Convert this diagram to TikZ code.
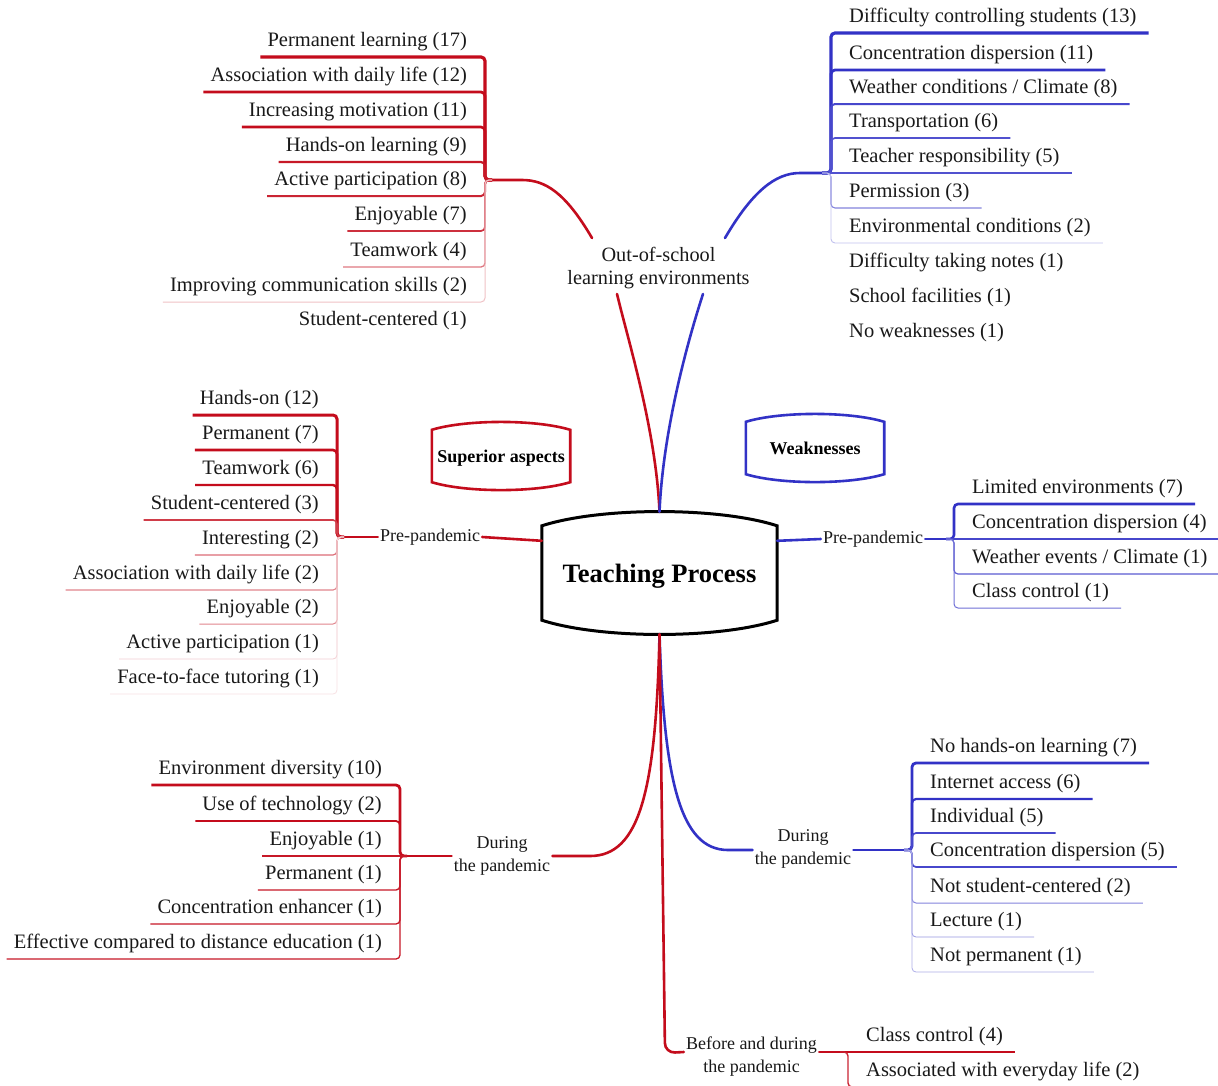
\documentclass[tikz,border=0pt]{standalone}
\usepackage{fontspec}
\setmainfont{Liberation Serif}
\newfontfamily\mmserif{Liberation Serif}
\usetikzlibrary{calc}
\definecolor{mmred}{RGB}{196,12,28}
\definecolor{mmblue}{RGB}{50,50,198}
\tikzset{
  mmitem/.style={font=\mmserif\fontsize{20.5}{24}\selectfont, text=black!90, inner xsep=7pt, inner ysep=6pt, text height=14pt, text depth=4.4pt},
  mmlabel/.style={font=\mmserif\fontsize{18}{23}\selectfont, text=black!90, align=center, inner sep=2pt},
  mmbranch/.style={line width=2.6pt, line cap=round},
  mmbox/.style={line width=2.6pt},
}
\newcommand{\mmL}[8]{%
  \node[mmitem,anchor=south east] (#1) at ({#3-11},#4) {#5};
  \draw[color=#8!#7,line width=#6pt,rounded corners=4pt] (#2) -| ([xshift=11pt]#1.south east) -- (#1.south west);}
\newcommand{\mmLS}[8]{%
  \node[mmitem,anchor=south east] (#1) at ({#3-11},#4) {#5};
  \draw[color=#8!#7,line width=#6pt] (#2) -- (#1.south west);}
\newcommand{\mmLN}[4]{%
  \node[mmitem,anchor=south east] (#1) at ({#2-11},#3) {#4};}
\newcommand{\mmR}[8]{%
  \node[mmitem,anchor=south west] (#1) at ({#3+11},#4) {#5};
  \draw[color=#8!#7,line width=#6pt,rounded corners=4pt] (#2) -| ([xshift=-11pt]#1.south west) -- ([xshift=5pt]#1.south east);}
\newcommand{\mmRS}[8]{%
  \node[mmitem,anchor=south west] (#1) at ({#3+11},#4) {#5};
  \draw[color=#8!#7,line width=#6pt] (#2) -- ([xshift=5pt]#1.south east);}
\newcommand{\mmRN}[4]{%
  \node[mmitem,anchor=south west] (#1) at ({#2+11},#3) {#4};}
\newcommand{\mmbarrel}[3]{%
  \draw[#2] (#1.north west) .. controls ($(#1.north west)!0.25!(#1.north east)+(0,-#3)$) and ($(#1.north west)!0.75!(#1.north east)+(0,-#3)$) .. (#1.north east) -- (#1.south east) .. controls ($(#1.south west)!0.75!(#1.south east)+(0,#3)$) and ($(#1.south west)!0.25!(#1.south east)+(0,#3)$) .. (#1.south west) -- cycle;}
\begin{document}
\begin{tikzpicture}[x=1pt,y=-1pt]
\useasboundingbox (0,0) rectangle (1218,1085);
\clip (0,0) rectangle (1218,1085);
\fill[white] (0,0) rectangle (1218,1085);

% central and category boxes
\node[minimum width=235pt, minimum height=94pt, inner sep=0pt, text depth=0pt, font=\mmserif\bfseries\fontsize{26.5}{30}\selectfont] (tp) at (659.5,573) {Teaching Process};
\mmbarrel{tp}{line width=3pt}{19}
\node[minimum width=138pt, minimum height=52pt, inner sep=0pt, text depth=0pt, font=\mmserif\bfseries\fontsize{18}{22}\selectfont] (sup) at (501,456) {Superior aspects};
\mmbarrel{sup}{mmbox,mmred}{10.5}
\node[minimum width=138pt, minimum height=52pt, inner sep=0pt, text depth=0pt, font=\mmserif\bfseries\fontsize{18}{22}\selectfont] (weak) at (815,448) {Weaknesses};
\mmbarrel{weak}{mmbox,mmblue}{10.5}

% branch labels
\node[mmlabel, font=\mmserif\fontsize{20.3}{23}\selectfont] (oos) at (658.5,268) {Out-of-school\\learning environments};
\node[mmlabel] (preL) at (430,537) {Pre-pandemic};
\node[mmlabel] (preR) at (873,539) {Pre-pandemic};
\node[mmlabel] (durL) at (502,856) {During\\the pandemic};
\node[mmlabel] (durR) at (803,849) {During\\the pandemic};
\node[mmlabel] (bad) at (751.5,1057) {Before and during\\the pandemic};

% ports and joins
\coordinate (tptop) at ($(tp.north)+(0,-14)$);
\coordinate (tpbot) at ($(tp.south)+(0,14)$);
\coordinate (tpL) at ($(tp.north west)+(0,15)$);
\coordinate (tpR) at ($(tp.north east)+(0,15)$);
\coordinate (oosbl) at (617,294);
\coordinate (oosbr) at (703,294);
\coordinate (oostl) at (592,238);
\coordinate (oostr) at (725,238);
\coordinate (jA) at (492,180);
\coordinate (jB) at (822,173);
\coordinate (jC) at (344,537);
\coordinate (jD) at (946,539);
\coordinate (jE) at (407,856);
\coordinate (jF) at (904,850);
\coordinate (jG) at (840,1052);

% main branches
\draw[mmbranch,mmred] (tptop) .. controls (656,430) and (628,340) .. (oosbl);
\draw[mmbranch,mmblue] (tptop) .. controls (663,430) and (688,340) .. (oosbr);
\draw[mmbranch,mmred] (oostl) .. controls (565,192) and (545,180) .. (522,180) -- (jA);
\draw[mmbranch,mmblue] (oostr) .. controls (752,192) and (775,173) .. (800,173) -- (jB);
\draw[mmbranch,mmred] (tpL) -- (preL.east);
\draw[mmbranch,mmred] (preL.west) -- (jC);
\draw[mmbranch,mmblue] (tpR) -- (preR.west);
\draw[mmbranch,mmblue] (preR.east) -- (jD);
\draw[mmbranch,mmred] (tpbot) .. controls (656,790) and (640,856) .. (590,856) -- (durL.east |- jE);
\draw[mmbranch,mmred] (durL.west |- jE) -- (jE);
\draw[mmbranch,mmblue] (tpbot) .. controls (664,780) and (680,850) .. (728,850) -- (durR.west |- jF);
\draw[mmbranch,mmblue] (durR.east |- jF) -- (jF);
\draw[mmbranch,mmred,rounded corners=10pt] (tpbot) -- (665,1053) -- (bad.west |- jG);
\draw[mmbranch,mmred] (bad.east |- jG) -- (jG);

% group A: out-of-school, superior
\mmL{a1}{jA}{485}{57}{Permanent learning (17)}{3.2}{100}{mmred}
\mmL{a2}{jA}{485}{92}{Association with daily life (12)}{2.8}{100}{mmred}
\mmL{a3}{jA}{485}{127}{Increasing motivation (11)}{2.6}{100}{mmred}
\mmL{a4}{jA}{485}{162}{Hands-on learning (9)}{2.2}{95}{mmred}
\mmL{a5}{jA}{485}{196}{Active participation (8)}{2.0}{90}{mmred}
\mmL{a6}{jA}{485}{231}{Enjoyable (7)}{1.7}{85}{mmred}
\mmL{a7}{jA}{485}{267}{Teamwork (4)}{1.3}{55}{mmred}
\mmL{a8}{jA}{485}{302}{Improving communication skills (2)}{1.0}{25}{mmred}
\mmLN{a9}{485}{336}{Student-centered (1)}

% group B: out-of-school, weaknesses
\mmR{b1}{jB}{831}{33}{Difficulty controlling students (13)}{3.2}{100}{mmblue}
\mmR{b2}{jB}{831}{70}{Concentration dispersion (11)}{2.8}{100}{mmblue}
\mmR{b3}{jB}{831}{104}{Weather conditions / Climate (8)}{2.0}{90}{mmblue}
\mmR{b4}{jB}{831}{138}{Transportation (6)}{1.7}{85}{mmblue}
\mmRS{b5}{jB}{831}{173}{Teacher responsibility (5)}{1.5}{85}{mmblue}
\mmR{b6}{jB}{831}{208}{Permission (3)}{1.1}{60}{mmblue}
\mmR{b7}{jB}{831}{243}{Environmental conditions (2)}{0.9}{30}{mmblue}
\mmRN{b8}{831}{278}{Difficulty taking notes (1)}
\mmRN{b9}{831}{313}{School facilities (1)}
\mmRN{b10}{831}{348}{No weaknesses (1)}

% group C: pre-pandemic, superior
\mmL{c1}{jC}{337}{415}{Hands-on (12)}{3.0}{100}{mmred}
\mmL{c2}{jC}{337}{450}{Permanent (7)}{2.6}{100}{mmred}
\mmL{c3}{jC}{337}{485}{Teamwork (6)}{2.4}{100}{mmred}
\mmL{c4}{jC}{337}{520}{Student-centered (3)}{1.6}{80}{mmred}
\mmL{c5}{jC}{337}{555}{Interesting (2)}{1.2}{60}{mmred}
\mmL{c6}{jC}{337}{590}{Association with daily life (2)}{1.1}{50}{mmred}
\mmL{c7}{jC}{337}{624}{Enjoyable (2)}{1.0}{50}{mmred}
\mmL{c8}{jC}{337}{659}{Active participation (1)}{0.8}{20}{mmred}
\mmL{c9}{jC}{337}{694}{Face-to-face tutoring (1)}{0.8}{12}{mmred}

% group D: pre-pandemic, weaknesses
\mmR{d1}{jD}{954}{504}{Limited environments (7)}{2.6}{100}{mmblue}
\mmRS{d2}{jD}{954}{539}{Concentration dispersion (4)}{1.8}{90}{mmblue}
\mmR{d3}{jD}{954}{574}{Weather events / Climate (1)}{1.2}{80}{mmblue}
\mmR{d4}{jD}{954}{608}{Class control (1)}{1.0}{70}{mmblue}

% group E: during the pandemic, superior
\mmL{e1}{jE}{400}{785}{Environment diversity (10)}{2.8}{100}{mmred}
\mmL{e2}{jE}{400}{821}{Use of technology (2)}{1.8}{100}{mmred}
\mmLS{e3}{jE}{400}{856}{Enjoyable (1)}{1.4}{95}{mmred}
\mmL{e4}{jE}{400}{890}{Permanent (1)}{1.4}{95}{mmred}
\mmL{e5}{jE}{400}{924}{Concentration enhancer (1)}{1.3}{95}{mmred}
\mmL{e6}{jE}{400}{959}{Effective compared to distance education (1)}{1.3}{95}{mmred}

% group F: during the pandemic, weaknesses
\mmR{f1}{jF}{912}{763}{No hands-on learning (7)}{2.8}{100}{mmblue}
\mmR{f2}{jF}{912}{799}{Internet access (6)}{2.2}{100}{mmblue}
\mmR{f3}{jF}{912}{833}{Individual (5)}{1.7}{90}{mmblue}
\mmR{f4}{jF}{912}{867}{Concentration dispersion (5)}{1.7}{90}{mmblue}
\mmR{f5}{jF}{912}{903}{Not student-centered (2)}{1.0}{60}{mmblue}
\mmR{f6}{jF}{912}{937}{Lecture (1)}{0.8}{50}{mmblue}
\mmR{f7}{jF}{912}{972}{Not permanent (1)}{0.8}{40}{mmblue}

% group G: before and during the pandemic
\mmRS{g1}{jG}{848}{1052}{Class control (4)}{2.4}{100}{mmred}
\mmR{g2}{jG}{848}{1087}{Associated with everyday life (2)}{1.4}{90}{mmred}
\end{tikzpicture}
\end{document}
